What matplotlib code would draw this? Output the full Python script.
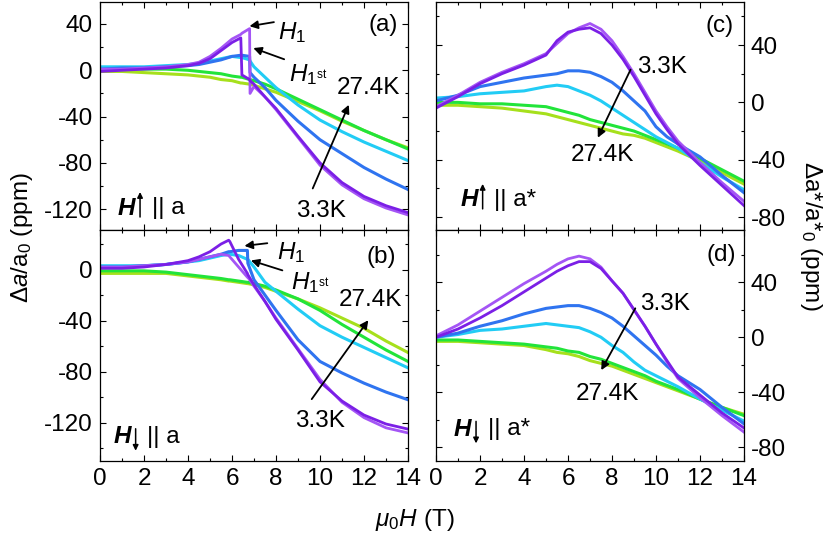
import matplotlib
matplotlib.use("Agg")
import matplotlib.pyplot as plt
from matplotlib.ticker import MultipleLocator
from matplotlib.transforms import offset_copy

plt.rcParams["font.family"] = ["Liberation Sans", "DejaVu Sans"]
plt.rcParams["mathtext.fontset"] = "custom"
plt.rcParams["mathtext.rm"] = "Liberation Sans"
plt.rcParams["mathtext.it"] = "Liberation Sans:italic"
plt.rcParams["axes.unicode_minus"] = False

# colours per temperature, 3.3 K (violet) -> 27.4 K (yellow-green)
COLORS = ["#7B1FE6", "#2F74F0", "#22CCF5", "#22E43A", "#A6E01C"]
PURPLE_2 = "#A455F5"

# ---------------- panel (a): H up || a ----------------
HA = [0, 1, 2, 3, 4, 4.5, 5, 5.5, 6, 6.4, 6.45, 6.8, 6.82, 7, 7.5, 8, 9, 10, 11, 12, 13, 14]
A_PURPLE = [-1, 0, 1, 2, 4, 6, 10, 17, 24, 28, -4, -8, -9, -12, -23, -33, -57, -80, -97, -109, -117, -123]
A_PURPLE_2 = [1, 1, 2, 3, 5, 7, 12, 19, 27, 31, 32, 36, -20, -14, -23, -34, -58, -82, -99, -111, -119, -125]
A_BLUE = [1, 2, 2, 3, 4, 5, 7, 9, 12, 13, 13, 12, -2, -6, -15, -26, -44, -60, -72, -84, -94, -103]
A_CYAN = [3, 3, 3, 4, 5, 6, 8, 10, 12, 11, 11, 9, 8, 3, -6, -15, -30, -43, -53, -62, -70, -78]
A_GREEN = [1, 1, 1, 1, 0, -1, -2, -3, -5, -6, -6, -8, -8, -9, -12, -16, -25, -34, -43, -52, -60, -68]
A_YELLOW = [-1, -1, -2, -3, -4, -5, -6, -8, -9, -11, -11, -12, -12, -13, -16, -19, -27, -35, -44, -52, -60, -67]

# ---------------- panel (b): H down || a ----------------
HB = [0, 1, 2, 3, 4, 4.5, 5, 5.5, 5.85, 5.9, 6.3, 6.7, 6.72, 7, 7.5, 8, 9, 10, 11, 12, 13, 14]
B_PURPLE = [1, 1, 2, 4, 7, 10, 14, 20, 23, 22, 8, -3, -4, -12, -25, -39, -63, -88, -103, -114, -121, -125]
B_PURPLE_2 = [2, 2, 3, 4, 6, 8, 10, 12, 11, 10, 2, -6, -6, -13, -25, -38, -62, -86, -104, -116, -124, -128]
B_BLUE = [2, 2, 3, 4, 6, 8, 10, 12, 14, 14, 15, 15, 5, -8, -20, -32, -55, -72, -81, -89, -96, -102]
B_CYAN = [3, 3, 3, 4, 6, 7, 9, 11, 12, 12, 11, 8, 8, 2, -10, -17, -31, -44, -53, -61, -69, -77]
B_GREEN = [-1, -1, -1, -2, -4, -5, -6, -7, -8, -8, -9, -10, -10, -11, -13, -16, -23, -32, -43, -53, -63, -72]
B_YELLOW = [-3, -3, -3, -3, -5, -6, -7, -8, -9, -9, -10, -11, -11, -12, -14, -17, -23, -30, -38, -46, -56, -65]

# ---------------- panels (c), (d): H || a* ----------------
HC = [0, 1, 2, 3, 4, 5, 5.5, 6, 6.5, 7, 7.5, 8, 8.5, 9, 9.5, 10, 10.5, 11, 12, 13, 14]
C_PURPLE = [-4, 4, 13, 20, 26, 33, 43, 49, 51, 52, 48, 40, 30, 18, 5, -8, -19, -29, -44, -58, -72]
C_PURPLE_2 = [-3, 5, 14, 21, 27, 34, 41, 48, 52, 55, 51, 43, 32, 20, 7, -6, -17, -27, -42, -56, -69]
C_BLUE = [1, 5, 11, 14, 17, 19, 20, 22, 22, 21, 18, 14, 8, 1, -6, -17, -24, -29, -38, -51, -63]
C_CYAN = [3, 4, 6, 7, 8, 11, 12, 11, 8, 5, 1, -4, -9, -14, -19, -24, -28, -32, -42, -52, -61]
C_GREEN = [0, 0, -1, -1, -2, -3, -5, -7, -9, -12, -14, -16, -18, -20, -23, -26, -29, -32, -39, -47, -55]
C_YELLOW = [-2, -2, -3, -4, -6, -8, -10, -12, -14, -16, -18, -20, -22, -23, -25, -28, -31, -34, -41, -49, -57]

D_PURPLE = [0, 6, 14, 23, 33, 43, 48, 52, 55, 55, 50, 41, 32, 20, 8, -5, -17, -29, -42, -55, -66]
D_PURPLE_2 = [1, 9, 19, 29, 39, 48, 53, 57, 59, 57, 51, 41, 32, 20, 8, -5, -18, -30, -44, -57, -69]
D_BLUE = [0, 3, 8, 12, 17, 21, 22, 23, 23, 21, 18, 14, 8, 1, -6, -13, -21, -28, -38, -51, -63]
D_CYAN = [0, 2, 5, 6, 8, 10, 9, 8, 7, 4, 0, -6, -11, -18, -24, -28, -32, -36, -45, -53, -61]
D_GREEN = [-2, -2, -3, -4, -5, -7, -8, -10, -11, -14, -16, -19, -22, -25, -28, -32, -35, -38, -45, -51, -57]
D_YELLOW = [-3, -3, -4, -5, -6, -9, -11, -12, -14, -17, -19, -21, -24, -27, -30, -33, -36, -39, -45, -51, -56]

FS = 17.5
W, H = 830, 535


def px_axes(fig, x0, y0, x1, y1):
    return fig.add_axes([x0 / W, 1 - y1 / H, (x1 - x0) / W, (y1 - y0) / H])


def style(ax, ylim, right=False):
    ax.set_xlim(0, 14)
    ax.set_ylim(*ylim)
    ax.xaxis.set_major_locator(MultipleLocator(2))
    ax.xaxis.set_minor_locator(MultipleLocator(1))
    ax.yaxis.set_major_locator(MultipleLocator(40))
    ax.yaxis.set_minor_locator(MultipleLocator(20))
    ax.tick_params(which="both", direction="in", top=True, right=True, labelsize=FS, width=0.8)
    ax.tick_params(which="major", length=4.5, pad=5)
    ax.tick_params(which="minor", length=2.5)
    if right:
        ax.tick_params(labelleft=False, labelright=True)
    for s in ax.spines.values():
        s.set_linewidth(0.9)


def curves(ax, h, purple2, purple, blue, cyan, green, yellow):
    for y, c in zip([yellow, green, cyan, blue], COLORS[::-1][:4]):
        ax.plot(h, y, color=c, lw=2.2)
    ax.plot(h, purple2, color=PURPLE_2, lw=2.0)
    ax.plot(h, purple, color=COLORS[0], lw=2.0)


def field_label(ax, x, y, up, tail):
    # bold italic H, a thin arrow for the sweep direction, then "|| a"
    ax.text(x, y, "H", fontsize=FS, fontweight="bold", style="italic", va="center", ha="left")
    head, start = (16, -9) if up else (-14, 8)
    ax.annotate("", xy=(x + 1.02, y), xycoords=offset_copy(ax.transData, fig=fig, y=head, units="dots"),
                xytext=(x + 1.02, y), textcoords=offset_copy(ax.transData, fig=fig, y=start, units="dots"),
                arrowprops=dict(arrowstyle="-|>", color="black", lw=1.1, mutation_scale=8,
                                shrinkA=0, shrinkB=0))
    ax.text(x + 1.55, y, "|| " + tail, fontsize=FS, va="center", ha="left")


def arrow(ax, tail, head):
    ax.annotate("", xy=head, xytext=tail,
                arrowprops=dict(arrowstyle="-|>", color="black", lw=1.3, mutation_scale=12))


fig = plt.figure(figsize=(W / 100, H / 100), dpi=100)

# (a)
ax = px_axes(fig, 100, 2, 408, 230)
curves(ax, HA, A_PURPLE_2, A_PURPLE, A_BLUE, A_CYAN, A_GREEN, A_YELLOW)
style(ax, (-138, 59))
ax.tick_params(labelbottom=False)
ax.text(12.85, 39, "(a)", fontsize=FS, ha="center", va="center")
ax.text(8.1, 33, r"$H_\mathit{1}$", fontsize=FS, ha="left", va="center")
arrow(ax, (8.03, 42), (6.67, 37.7))
ax.text(8.6, -4, r"$H_{\mathit{1}^{\mathrm{st}}}$", fontsize=FS, ha="left", va="center")
arrow(ax, (8.49, 8.7), (6.85, 20))
ax.text(12.2, -15.7, "27.4K", fontsize=FS, ha="center", va="center")
ax.text(10.05, -121.7, "3.3K", fontsize=FS, ha="center", va="center")
arrow(ax, (9.62, -104.3), (11.36, -27.6))
field_label(ax, 0.8, -119, True, "a")

# (b)
ax = px_axes(fig, 100, 230, 408, 461)
curves(ax, HB, B_PURPLE_2, B_PURPLE, B_BLUE, B_CYAN, B_GREEN, B_YELLOW)
style(ax, (-150, 31))
ax.text(12.8, 10.2, "(b)", fontsize=FS, ha="center", va="center")
ax.text(8.05, 13.5, r"$H_\mathit{1}$", fontsize=FS, ha="left", va="center")
arrow(ax, (7.73, 20.9), (6.44, 18.3))
ax.text(8.7, -10.5, r"$H_{\mathit{1}^{\mathrm{st}}}$", fontsize=FS, ha="left", va="center")
arrow(ax, (8.41, -1.3), (6.74, 7.8))
ax.text(12.3, -23.5, "27.4K", fontsize=FS, ha="center", va="center")
ax.text(10.0, -119, "3.3K", fontsize=FS, ha="center", va="center")
arrow(ax, (9.55, -103.3), (12.27, -37.9))
field_label(ax, 0.6, -131, False, "a")

# (c)
ax = px_axes(fig, 436, 2, 744, 230)
curves(ax, HC, C_PURPLE_2, C_PURPLE, C_BLUE, C_CYAN, C_GREEN, C_YELLOW)
style(ax, (-89, 70), right=True)
ax.tick_params(labelbottom=False)
ax.text(12.9, 53.6, "(c)", fontsize=FS, ha="center", va="center")
ax.text(10.25, 25, "3.3K", fontsize=FS, ha="center", va="center")
ax.text(7.55, -36.9, "27.4K", fontsize=FS, ha="center", va="center")
arrow(ax, (8.9, 24.6), (7.3, -26.4))
field_label(ax, 1.1, -68, True, "a*")

# (d)
ax = px_axes(fig, 436, 230, 744, 461)
curves(ax, HC, D_PURPLE_2, D_PURPLE, D_BLUE, D_CYAN, D_GREEN, D_YELLOW)
style(ax, (-90, 78), right=True)
ax.text(12.95, 59.6, "(d)", fontsize=FS, ha="center", va="center")
ax.text(10.4, 24, "3.3K", fontsize=FS, ha="center", va="center")
ax.text(7.77, -41.5, "27.4K", fontsize=FS, ha="center", va="center")
arrow(ax, (9.12, 22.8), (7.45, -25.7))
field_label(ax, 0.8, -67, False, "a*")

fig.text(0.5, 0.028, r"$μ_0H$ (T)", fontsize=FS, ha="center", va="center")
fig.text(0.027, 0.555, r"Δ$a$/a$_0$ (ppm)", fontsize=FS, ha="center", va="center", rotation=90)
fig.text(0.977, 0.559, r"Δa*/a*$_0$ (ppm)", fontsize=FS, ha="center", va="center", rotation=-90)

fig.savefig("out.png", dpi=100)
